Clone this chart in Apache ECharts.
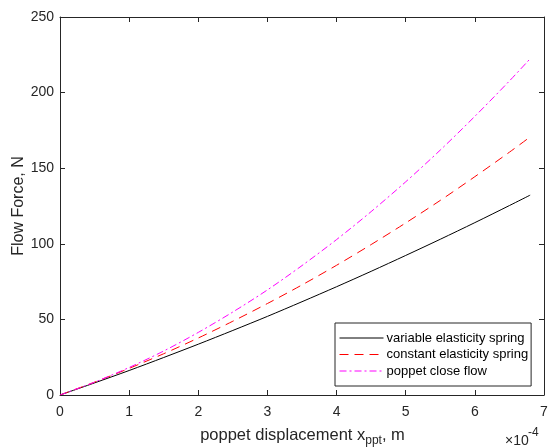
<!DOCTYPE html>
<html>
<head>
<meta charset="utf-8">
<script src="https://cdn.jsdelivr.net/npm/echarts@6/dist/echarts.min.js"></script>
<style>
html,body{margin:0;padding:0;background:#fff;}
#c{width:555px;height:447px;}
</style>
</head>
<body>
<div id="c"></div>
<script>
// x in units of 1e-4 m
var xValues = [0, 0.5, 1, 1.5, 2, 2.5, 3, 3.5, 4, 4.5, 5, 5.5, 6, 6.5, 6.8];
var variableSpring = [0, 8.0, 16.2, 24.8, 33.6, 42.7, 52.0, 61.7, 71.6, 81.8, 92.3, 103.0, 114.0, 125.3, 132.2];
var constantSpring = [0, 8.5, 17.6, 27.3, 37.7, 48.8, 60.5, 72.8, 85.8, 99.5, 113.8, 128.7, 144.4, 160.6, 170.7];
var poppetClose = [0, 8.5, 18.2, 29.1, 41.4, 54.9, 69.5, 85.6, 102.8, 121.3, 141.0, 162.0, 184.3, 207.7, 222.4];
var seriesNames = ['variable elasticity spring', 'constant elasticity spring', 'poppet close flow'];
var xTicks = [0, 1, 2, 3, 4, 5, 6, 7];
var yTicks = [0, 50, 100, 150, 200, 250];

function pairs(ys) { return xValues.map(function (x, i) { return [x, ys[i]]; }); }

var axisColor = '#262626';
var font = 'Liberation Sans, Arial, Helvetica, sans-serif';

var chart = echarts.init(document.getElementById('c'), null, {renderer: 'canvas'});
var option = {
  animation: false,
  backgroundColor: '#fff',
  grid: {left: 60, top: 17, right: 11, bottom: 52, containLabel: false},
  xAxis: [{
    type: 'value', min: xTicks[0], max: xTicks[xTicks.length - 1], interval: 1,
    position: 'bottom',
    axisLine: {show: true, onZero: false, lineStyle: {color: axisColor, width: 1}},
    axisTick: {show: true, inside: true, length: 5, lineStyle: {color: axisColor}},
    axisLabel: {show: true, color: axisColor, fontSize: 14, fontFamily: font, margin: 10},
    splitLine: {show: false}
  }, {
    type: 'value', min: xTicks[0], max: xTicks[xTicks.length - 1], interval: 1,
    position: 'top',
    axisLine: {show: true, onZero: false, lineStyle: {color: axisColor, width: 1}},
    axisTick: {show: true, inside: true, length: 5, lineStyle: {color: axisColor}},
    axisLabel: {show: false},
    splitLine: {show: false}
  }],
  yAxis: [{
    type: 'value', min: yTicks[0], max: yTicks[yTicks.length - 1], interval: 50,
    position: 'left',
    axisLine: {show: true, onZero: false, lineStyle: {color: axisColor, width: 1}},
    axisTick: {show: true, inside: true, length: 5, lineStyle: {color: axisColor}},
    axisLabel: {show: true, color: axisColor, fontSize: 14, fontFamily: font, margin: 6},
    splitLine: {show: false}
  }, {
    type: 'value', min: yTicks[0], max: yTicks[yTicks.length - 1], interval: 50,
    position: 'right',
    axisLine: {show: true, onZero: false, lineStyle: {color: axisColor, width: 1}},
    axisTick: {show: true, inside: true, length: 5, lineStyle: {color: axisColor}},
    axisLabel: {show: false},
    splitLine: {show: false}
  }],
  legend: {
    orient: 'vertical',
    left: 335, top: 323,
    padding: [8, 3, 8, 4],
    itemGap: 2.5,
    itemWidth: 44,
    itemHeight: 14,
    backgroundColor: '#fff',
    borderColor: axisColor,
    borderWidth: 1,
    borderRadius: 0,
    itemStyle: {opacity: 0},
    lineStyle: {width: 1},
    textStyle: {fontSize: 13, fontFamily: font, color: '#000', lineHeight: 14, padding: [0, 0, 0, -2]},
    data: seriesNames
  },
  series: [{
    name: seriesNames[0], type: 'line', data: pairs(variableSpring),
    showSymbol: false, symbol: 'none', smooth: 0.3,
    lineStyle: {color: '#000000', width: 1, type: 'solid'},
    itemStyle: {color: '#000000'}
  }, {
    name: seriesNames[1], type: 'line', data: pairs(constantSpring),
    showSymbol: false, symbol: 'none', smooth: 0.3,
    lineStyle: {color: '#ff0000', width: 1, type: [9, 6]},
    itemStyle: {color: '#ff0000'}
  }, {
    name: seriesNames[2], type: 'line', data: pairs(poppetClose),
    showSymbol: false, symbol: 'none', smooth: 0.3,
    lineStyle: {color: '#ff00ff', width: 1, type: [7, 3, 2, 3]},
    itemStyle: {color: '#ff00ff'}
  }],
  graphic: [{
    type: 'text', x: 302.5, y: 435,
    style: {
      text: '{m|poppet displacement x}{sub|ppt}{m|, m}',
      align: 'center', verticalAlign: 'middle',
      rich: {
        m: {fontSize: 16.5, fontFamily: font, fill: axisColor, lineHeight: 24, verticalAlign: 'middle'},
        sub: {fontSize: 12, fontFamily: font, fill: axisColor, lineHeight: 14, verticalAlign: 'bottom'}
      }
    }
  }, {
    type: 'text', x: 505, y: 441,
    style: {
      text: '×10', align: 'left', verticalAlign: 'middle',
      fontSize: 14, fontFamily: font, fill: axisColor
    }
  }, {
    type: 'text', x: 528, y: 433,
    style: {
      text: '-4', align: 'left', verticalAlign: 'middle',
      fontSize: 12, fontFamily: font, fill: axisColor
    }
  }, {
    type: 'text', x: 19, y: 206, rotation: Math.PI / 2,
    style: {
      text: 'Flow Force, N',
      align: 'center', verticalAlign: 'middle',
      fontSize: 16, fontFamily: font, fill: axisColor
    }
  }]
};
chart.setOption(option);
</script>
</body>
</html>
